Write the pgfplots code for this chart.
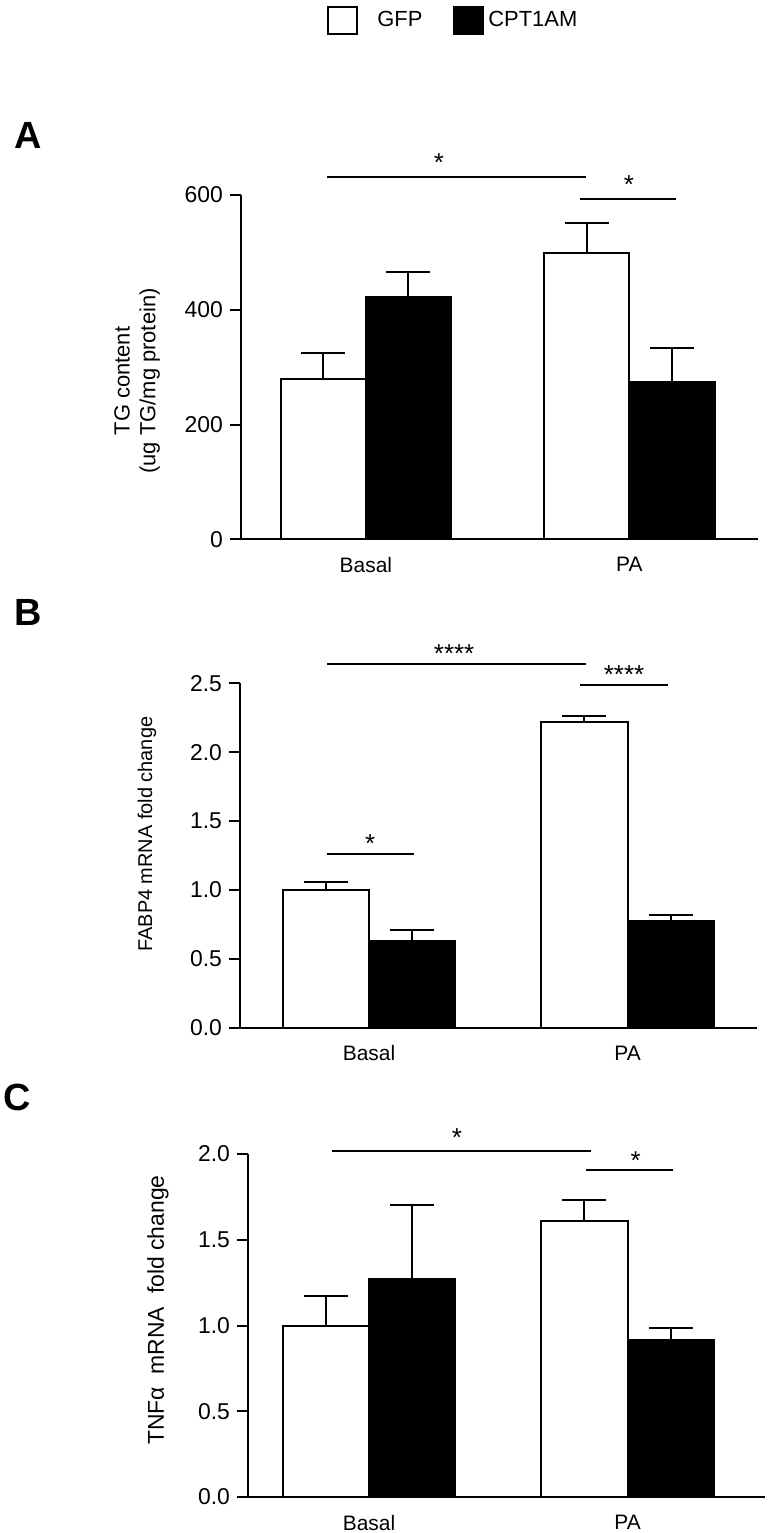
\documentclass[border=0pt]{standalone}
\usepackage{fontspec}
\setmainfont{Liberation Sans}
\usepackage{pgfplots}
\pgfplotsset{compat=1.18}

\pgfplotsset{
  panel/.style={
    scale only axis,
    axis lines=left,
    axis line style={-, line width=1bp, black},
    tick align=outside,
    major tick length=5.5bp,
    ytick style={line width=1bp, black},
    xtick style={draw=none},
    xtick={0,1},
    xticklabels={Basal,PA},
    ymin=0,
    clip=false,
    xticklabel style={font=\fontsize{10.5}{12}\selectfont},
    yticklabel style={font=\fontsize{11.5}{13}\selectfont},
    /pgf/number format/assume math mode=true,
    ylabel style={anchor=center, align=center},
    ybar, bar shift=0pt,
  },
  gfp/.style={fill=white, draw=black, line width=1bp,
    error bars/.cd, y dir=plus, y explicit,
    error bar style={line width=1bp, black},
    error mark options={rotate=90, black, line width=1bp, mark size=11bp}},
  cpt/.style={fill=black, draw=black, line width=1bp,
    error bars/.cd, y dir=plus, y explicit,
    error bar style={line width=1bp, black},
    error mark options={rotate=90, black, line width=1bp, mark size=11bp}},
}
\tikzset{star/.style={anchor=base, font=\fontsize{13}{13}\selectfont, inner sep=0pt},
  sig/.style={line width=1bp, black}}

\begin{document}
\begin{tikzpicture}
\path[use as bounding box] (0,0) rectangle (385.5bp,-766.5bp);

% ---------- Panel A ----------
\begin{axis}[panel,
  at={(120.5bp,-269.65bp)}, anchor=south west,
  width=258.5bp, height=172.15bp,
  xmin=-0.474, xmax=1.488, ymax=600,
  bar width=0.323,
  ytick={0,200,400,600},
  ylabel={TG content\\(ug TG/mg protein)},
  ylabel style={at={(rel axis cs:-0.201,0.46)}, font=\fontsize{11}{13}\selectfont},
  legend style={at={(rel axis cs:0.1663,1.508)}, anchor=west, draw=none, fill=none,
    inner sep=0pt, legend columns=2, font=\fontsize{11}{13}\selectfont,
    /tikz/every even column/.append style={column sep=13.5bp}},
  legend image code/.code={\draw[#1, line width=1bp] (0bp,-6.75bp) rectangle (14.5bp,6.75bp);},
]
\addplot[gfp] coordinates {(-0.1615,279) +- (0,46) (0.8385,499) +- (0,52)};
\addlegendentry{\hspace{7.5bp}GFP}
\addplot[cpt] coordinates {(0.1615,423) +- (0,43) (1.1615,274) +- (0,59)};
\addlegendentry{CPT1AM}
\draw[sig] (axis cs:-0.148,632) -- (axis cs:0.835,632);
\node[star, yshift=2.8bp] at (axis cs:0.277,632) {*};
\draw[sig] (axis cs:0.812,593) -- (axis cs:1.177,593);
\node[star, yshift=2.6bp] at (axis cs:0.998,593) {*};
\end{axis}

% ---------- Panel B ----------
\begin{axis}[panel,
  at={(120bp,-513.85bp)}, anchor=south west,
  width=258.35bp, height=172.2bp,
  xmin=-0.499, xmax=1.499, ymax=2.5,
  bar width=0.334,
  ytick={0,0.5,1.0,1.5,2.0,2.5},
  yticklabel style={/pgf/number format/.cd, fixed, fixed zerofill, precision=1},
  ylabel={FABP4 mRNA fold change},
  ylabel style={at={(rel axis cs:-0.18,0.562)}, font=\fontsize{10}{12}\selectfont},
]
\addplot[gfp] coordinates {(-0.167,1.0) +- (0,0.06) (0.833,2.216) +- (0,0.048)};
\addplot[cpt] coordinates {(0.167,0.63) +- (0,0.08) (1.167,0.774) +- (0,0.046)};
\draw[sig] (axis cs:-0.162,2.637) -- (axis cs:0.839,2.637);
\node[star, yshift=0.8bp] at (axis cs:0.329,2.637) {****};
\draw[sig] (axis cs:0.816,2.485) -- (axis cs:1.156,2.485);
\node[star, yshift=1.0bp] at (axis cs:0.986,2.485) {****};
\draw[sig] (axis cs:-0.162,1.258) -- (axis cs:0.174,1.258);
\node[star, yshift=0.8bp] at (axis cs:0.004,1.258) {*};
\end{axis}

% ---------- Panel C ----------
\begin{axis}[panel,
  at={(124bp,-748.5bp)}, anchor=south west,
  width=258.5bp, height=171.5bp,
  xmin=-0.468, xmax=1.531, ymax=2.0,
  bar width=0.334,
  ytick={0,0.5,1.0,1.5,2.0},
  yticklabel style={/pgf/number format/.cd, fixed, fixed zerofill, precision=1},
  ylabel={TNFα\ \ mRNA\ \ fold change},
  ylabel style={at={(rel axis cs:-0.174,0.545)}, font=\fontsize{11.5}{13}\selectfont},
]
\addplot[gfp] coordinates {(-0.167,1.0) +- (0,0.175) (0.833,1.608) +- (0,0.122)};
\addplot[cpt] coordinates {(0.167,1.271) +- (0,0.43) (1.167,0.915) +- (0,0.069)};
\draw[sig] (axis cs:-0.143,2.019) -- (axis cs:0.858,2.019);
\node[star, yshift=2.1bp] at (axis cs:0.340,2.019) {*};
\draw[sig] (axis cs:0.838,1.906) -- (axis cs:1.174,1.906);
\node[star, yshift=0.5bp] at (axis cs:1.031,1.906) {*};
\end{axis}

% panel letters
\node[font=\bfseries\fontsize{19}{19}\selectfont] at (14bp,-67.5bp) {A};
\node[font=\bfseries\fontsize{19}{19}\selectfont] at (14.25bp,-306bp) {B};
\node[font=\bfseries\fontsize{19}{19}\selectfont] at (8.35bp,-548.5bp) {C};
\end{tikzpicture}
\end{document}
